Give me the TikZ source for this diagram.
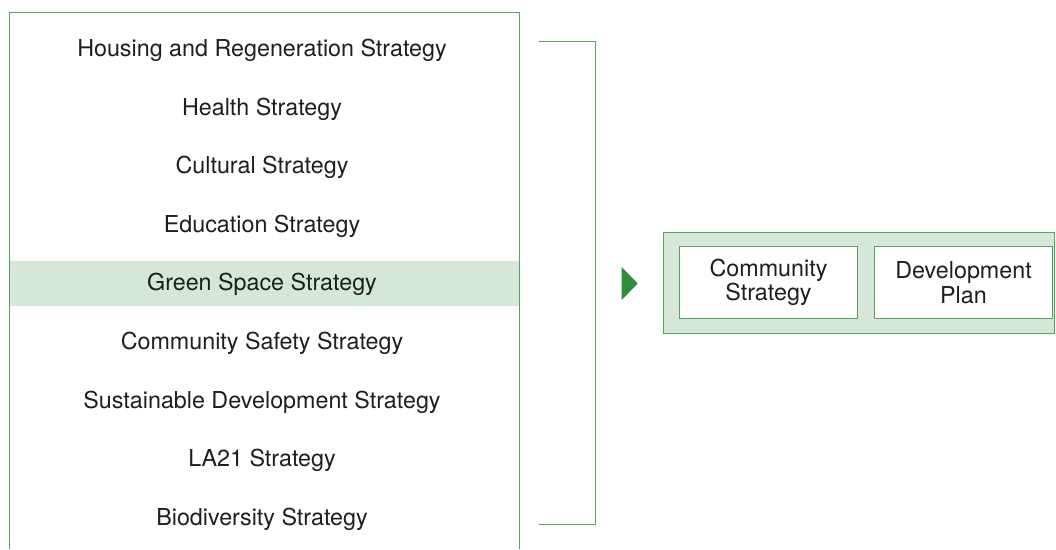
\documentclass[tikz,border=0pt]{standalone}
\usepackage{fontspec}
\setmainfont{TeX Gyre Heros}
\usepackage{xcolor}
\definecolor{LineGreen}{RGB}{84,164,94}
\definecolor{PaleGreen}{RGB}{213,232,216}
\definecolor{ArrowGreen}{RGB}{46,140,58}
\definecolor{TextGrey}{RGB}{30,30,30}

\tikzset{
	strategy/.style={anchor=base, inner sep=0.75pt, text=TextGrey, font=\fontsize{23.3}{24.5}\selectfont},
	planbox/.style={draw=LineGreen, fill=white, line width=1pt, minimum width=178pt, minimum height=72pt, align=center, text=TextGrey, font=\fontsize{23.3}{24.5}\selectfont}
}

\begin{document}
\begin{tikzpicture}[x=1pt,y=1pt,yscale=-1,xscale=1]
		\useasboundingbox (0,0) rectangle (1056,549); % Diagram is 1056 wide, 549 high

		% The highlighted band behind "Green Space Strategy"
		\fill[PaleGreen] (9.5,261) rectangle (519.5,305.7);

		% The open box round the list of strategies
		\draw[LineGreen, line width=1pt] (9.5,549) -- (9.5,12.5) -- (519.5,12.5) -- (519.5,549);

		% The strategies, one per row
		\node[strategy] (housing) at (262,56.5) {Housing and Regeneration Strategy};
		\node[strategy] (health) at (262,115.1) {Health Strategy};
		\node[strategy] (cultural) at (262,173.7) {Cultural Strategy};
		\node[strategy] (education) at (262,232.3) {Education Strategy};
		\node[strategy] (greenspace) at (262,290.9) {Green Space Strategy};
		\node[strategy] (safety) at (262,349.5) {Community Safety Strategy};
		\node[strategy] (sustainable) at (262,408.1) {Sustainable Development Strategy};
		\node[strategy] (la21) at (262,466.7) {LA21 Strategy};
		\node[strategy] (biodiversity) at (262,525.3) {Biodiversity Strategy};

		% The bracket that gathers the list
		\coordinate (brtop) at (539,41.5);
		\coordinate (brbottom) at (539,524.5);
		\draw[LineGreen, line width=1pt] (brtop) -- (595.5,41.5) -- (595.5,524.5) -- (brbottom);

		% The green triangle pointing right
		\fill[ArrowGreen] (621.7,267) -- (637.7,283.5) -- (621.7,300) -- cycle;

		% The outer box round the plans
		\draw[LineGreen, fill=PaleGreen, line width=1pt] (663.5,232.5) rectangle (1054.5,333.5);

		% The two plans
		\node[planbox] (community) at (768.5,282.5) {Community\\Strategy};
		\node[planbox] (devplan) at (963.5,282.5) {Development\\Plan};
	\end{tikzpicture}
\end{document}
